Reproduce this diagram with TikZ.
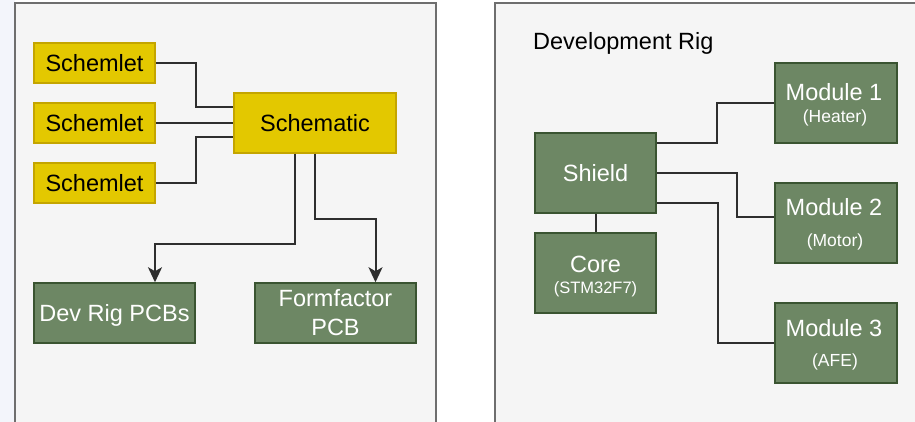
\documentclass[tikz,border=0pt]{standalone}
\usepackage{fontspec}
\setmainfont{Liberation Sans}
\usetikzlibrary{arrows.meta}
\definecolor{panelfill}{HTML}{F5F5F5}
\definecolor{panelline}{HTML}{6E6E6E}
\definecolor{yfill}{HTML}{E3C800}
\definecolor{yline}{HTML}{C4A500}
\definecolor{gfill}{HTML}{6D8764}
\definecolor{gline}{HTML}{3A5431}
\definecolor{wire}{HTML}{2E2E2E}
\definecolor{outerbg}{HTML}{F3F5FB}
\tikzset{
  panel/.style={fill=panelfill, draw=panelline, line width=2pt},
  ybox/.style={draw=yline, fill=yfill, line width=1.5pt, inner sep=0pt,
    font=\fontsize{23.5}{28}\selectfont, text=black,
    text height=16.8pt, text depth=0pt},
  gbox/.style={draw=gline, fill=gfill, line width=1.5pt, inner sep=0pt,
    font=\fontsize{23.5}{28}\selectfont, text=white,
    text height=16.8pt, text depth=0pt},
  bigtxt/.style={anchor=base, inner sep=0pt, text=white, font=\fontsize{23.5}{28}\selectfont},
  smalltxt/.style={anchor=base, inner sep=0pt, text=white, font=\fontsize{17.5}{20}\selectfont},
  wireline/.style={draw=wire, line width=2pt},
  arrowline/.style={wireline, -{Stealth[length=15pt,width=14pt,inset=4pt]}},
}
\begin{document}
\begin{tikzpicture}[x=1pt, y=-1pt]
\useasboundingbox (0,0) rectangle (915,422);
\fill[white] (0,0) rectangle (915,422);
\fill[outerbg] (0,0) rectangle (15,422);
% panels
\path[panel] (15,3) rectangle (435.5,430);
\path[panel] (495,3) rectangle (925,430);

% ---- left panel ----
\node[ybox, minimum width=121pt, minimum height=40pt] (s1) at (94.5,63) {Schemlet};
\node[ybox, minimum width=121pt, minimum height=40pt] (s2) at (94.5,123) {Schemlet};
\node[ybox, minimum width=121pt, minimum height=40pt] (s3) at (94.5,183) {Schemlet};
\node[ybox, minimum width=162pt, minimum height=60pt] (sch) at (315,123) {Schematic};
\node[gbox, minimum width=161pt, minimum height=60pt] (dev) at (114.5,313) {Dev Rig PCBs};
\node[gbox, minimum width=161pt, minimum height=60pt] (ff) at (335.5,313) {};
\node[bigtxt] (fft1) at ([yshift=6.5pt]ff.center) {Formfactor};
\node[bigtxt] (fft2) at ([yshift=-22.5pt]ff.center) {PCB};

\draw[wireline] (s1.east) -- ++(40,0) |- ([yshift=16pt]sch.west);
\draw[wireline] (s2.east) -- (sch.west);
\draw[wireline] (s3.east) -- ++(40,0) |- ([yshift=-14pt]sch.west);
\draw[arrowline] ([xshift=-20pt]sch.south) -- ++(0,90) -| ([xshift=40.5pt]dev.north);
\draw[arrowline] (sch.south) -- ++(0,65) -| ([xshift=40pt]ff.north);

% ---- right panel ----
\node[anchor=base west, inner sep=0pt, font=\fontsize{23.5}{28}\selectfont] (title) at (533,50) {Development Rig};

\node[gbox, minimum width=121pt, minimum height=80pt] (sh) at (595.5,173) {Shield};
\node[gbox, minimum width=121pt, minimum height=80pt] (core) at (595.5,273) {};
\node[bigtxt] (coret1) at (595.5,272) {Core};
\node[smalltxt, font=\fontsize{16.5}{20}\selectfont] (coret2) at (595.5,293) {(STM32F7)};

\node[gbox, minimum width=122pt, minimum height=80pt] (m1) at (836,103) {};
\node[bigtxt] (m1t1) at (834,100.4) {Module 1};
\node[smalltxt] (m1t2) at (835,123) {(Heater)};

\node[gbox, minimum width=122pt, minimum height=80pt] (m2) at (836,223) {};
\node[bigtxt] (m2t1) at (834,215.4) {Module 2};
\node[smalltxt] (m2t2) at (835,246) {(Motor)};

\node[gbox, minimum width=122pt, minimum height=80pt] (m3) at (836,343) {};
\node[bigtxt] (m3t1) at (834,336.4) {Module 3};
\node[smalltxt] (m3t2) at (835,366) {(AFE)};

\draw[wireline] (sh.south) -- (core.north);
\draw[wireline] ([yshift=30pt]sh.east) -- ++(60,0) |- (m1.west);
\draw[wireline] (sh.east) -- ++(80,0) |- ([yshift=6pt]m2.west);
\draw[wireline] ([yshift=-30pt]sh.east) -- ++(61,0) |- (m3.west);
\end{tikzpicture}
\end{document}
